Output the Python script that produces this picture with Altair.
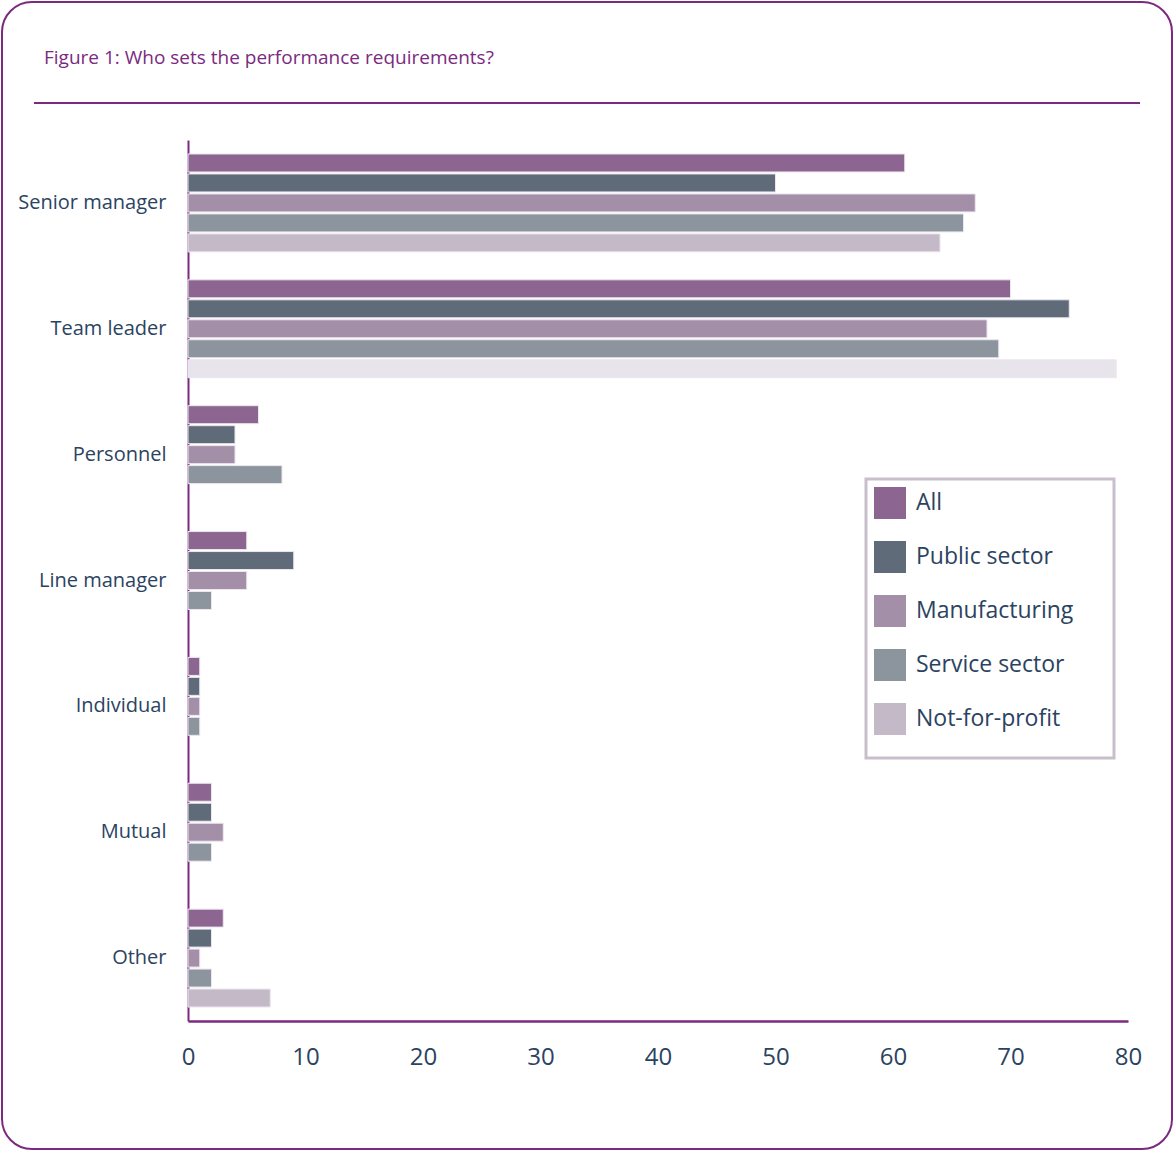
import altair as alt
import pandas as pd

categories = ["Senior manager", "Team leader", "Personnel", "Line manager", "Individual", "Mutual", "Other"]
series = ["All", "Public sector", "Manufacturing", "Service sector", "Not-for-profit"]

all_vals = [61, 70, 6, 5, 1, 2, 3]
public_vals = [50, 75, 4, 9, 1, 2, 2]
manuf_vals = [67, 68, 4, 5, 1, 3, 1]
service_vals = [66, 69, 8, 2, 1, 2, 2]
nfp_vals = [64, 79, None, None, None, None, 7]

series_values = [all_vals, public_vals, manuf_vals, service_vals, nfp_vals]
colors = ["#8c6590", "#606b79", "#a48fa8", "#8c949e", "#c4b9c7"]
light_nfp = "#e7e5eb"

rows = []
for s, vals in zip(series, series_values):
    for c, v in zip(categories, vals):
        if v is None:
            continue
        shade = s
        if s == "Not-for-profit" and c == "Team leader":
            shade = "Not-for-profit (light)"
        rows.append({"category": c, "series": s, "value": v, "shade": shade})
df = pd.DataFrame(rows)

PURPLE = "#7b2a80"
NAVY = "#2b4361"
FONT = "Open Sans"

bars = alt.Chart(df).mark_bar(stroke="#ece6ef", strokeWidth=1).encode(
    x=alt.X("value:Q", scale=alt.Scale(domain=[0, 80], nice=False),
            axis=alt.Axis(values=[0, 10, 20, 30, 40, 50, 60, 70, 80], title=None, grid=False,
                          ticks=False, domainColor=PURPLE, domainWidth=2.5, labelFlush=False,
                          labelFontSize=24, labelColor=NAVY, labelFont=FONT, labelPadding=24)),
    y=alt.Y("category:N", sort=categories,
            scale=alt.Scale(paddingInner=0, paddingOuter=0),
            axis=alt.Axis(title=None, ticks=False, domainColor=PURPLE, domainWidth=2,
                          labelFontSize=20, labelColor=NAVY, labelFont=FONT, labelPadding=22)),
    yOffset=alt.YOffset("series:N", sort=series,
                        scale=alt.Scale(domain=series, paddingInner=0.1, paddingOuter=0.7)),
    color=alt.Color("shade:N",
                    scale=alt.Scale(domain=series + ["Not-for-profit (light)"], range=colors + [light_nfp]),
                    legend=alt.Legend(values=series, title=None, orient="none", legendX=678, legendY=339,
                                      padding=8, symbolType="square", symbolSize=1024,
                                      symbolStrokeWidth=0, labelFontSize=23, labelFont=FONT,
                                      labelColor=NAVY, rowPadding=22, labelOffset=10,
                                      labelLimit=300)),
)

one = pd.DataFrame({"a": [0]})

frame = alt.Chart(one).mark_rect(fill=None, fillOpacity=0, stroke=PURPLE, strokeWidth=2,
                                  cornerRadius=30).encode(
    x=alt.value(-186), x2=alt.value(984), y=alt.value(-138), y2=alt.value(1009))

legend_box = alt.Chart(one).mark_rect(fill=None, fillOpacity=0, stroke="#c9bfcc", strokeWidth=3).encode(
    x=alt.value(678), x2=alt.value(926), y=alt.value(339), y2=alt.value(618))

title_rule = alt.Chart(one).mark_rule(color=PURPLE, strokeWidth=2).encode(
    x=alt.value(-154), x2=alt.value(952), y=alt.value(-37))

title_text = alt.Chart(one).mark_text(text="Figure 1: Who sets the performance requirements?",
                                      align="left", baseline="middle", font=FONT, fontSize=19,
                                      color=PURPLE).encode(
    x=alt.value(-144), y=alt.value(-82))

chart = alt.layer(frame, bars, legend_box, title_rule, title_text).properties(
    width=940, height=881,
    background="white",
    autosize=alt.AutoSizeParams(type="none"),
    padding={"left": 188, "top": 140, "right": 46, "bottom": 130},
).configure_view(stroke=None)

chart.save("out.html", embed_options={"renderer": "svg", "actions": False})
